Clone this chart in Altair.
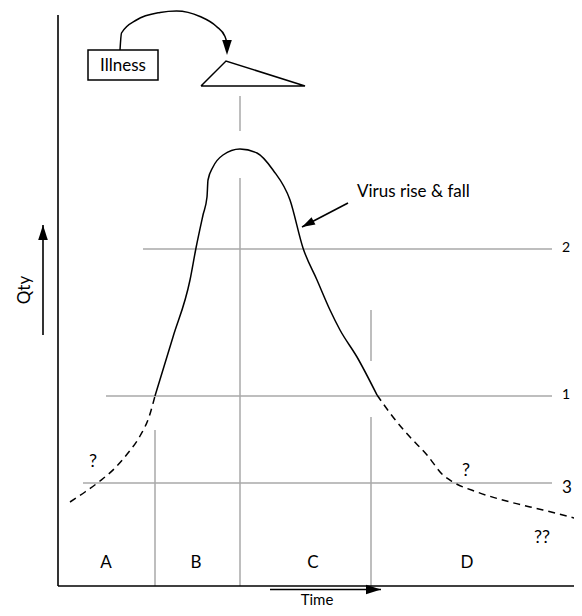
import altair as alt
import pandas as pd

# Diagram coordinates: Time (t) along x, Qty (q) along y.
# Threshold levels
LEVEL_NAMES = ["2", "1", "3"]
LEVEL_Q = [67.4, 38.0, 20.6]
LEVEL_START = [17.0, 9.6, 5.0]
LEVEL_END = [98.8, 98.8, 98.8]
LEVEL_LABEL_T = [100.8, 100.8, 100.8]
LEVEL_LABEL_Q = [67.6, 38.2, 19.6]
LEVEL_LABEL_SIZE = [14, 14, 17]

# Phase dividers (vertical grey lines) and their extra short marks
PHASE_T = [19.4, 36.4, 62.6]
PHASE_TOP = [31.2, 81.6, 33.8]
MARK_T = [36.4, 62.6]
MARK_LO = [91.0, 45.0]
MARK_HI = [98.0, 55.2]

PHASE_NAMES = ["A", "B", "C", "D"]
PHASE_LABEL_T = [9.6, 27.6, 51.0, 81.8]
PHASE_LABEL_Q = [4.6, 4.6, 4.6, 4.6]

# Virus curve: solid part
SOLID_T = [19.4, 23.0, 26.4, 27.6, 29.0, 29.8, 30.0, 31.0, 33.0, 36.4,
           39.8, 43.0, 46.4, 49.0, 51.8, 54.4, 56.4, 59.8, 63.8]
SOLID_Q = [38.0, 49.8, 61.2, 67.6, 74.2, 77.8, 81.2, 83.8, 86.2, 87.4,
           86.6, 83.2, 77.2, 67.6, 61.2, 55.2, 51.2, 45.8, 38.2]
# Dashed (uncertain) parts
DASH_L_T = [2.4, 5.4, 8.4, 11.4, 14.0, 16.4, 18.2, 19.4]
DASH_L_Q = [16.8, 18.8, 21.0, 23.6, 26.6, 30.0, 33.8, 38.0]
DASH_R_T = [63.8, 67.0, 70.4, 73.8, 77.0, 79.0, 83.8, 90.4, 97.0, 104.8]
DASH_R_Q = [38.2, 33.8, 29.8, 26.2, 22.2, 20.8, 18.8, 16.8, 15.2, 13.2]

# Question marks
Q_TEXT = ["?", "?", "??"]
Q_T = [7.0, 81.6, 96.8]
Q_Q = [24.8, 23.0, 9.6]

# Axes
AXIS_T_MAX = 104.8
AXIS_Q_MAX = 114.2

# Illness box and curved arrow to the triangle
BOX_T = [6.0, 20.0]
BOX_Q = [101.2, 107.2]
BOX_LABEL = "Illness"
ARC_T = [12.4, 12.7, 15.7, 20.4, 23.7, 28.4, 31.7, 33.4, 33.8]
ARC_Q = [107.2, 110.6, 113.2, 114.7, 115.0, 113.9, 111.9, 109.9, 108.6]
TRI_T = [28.6, 33.6, 49.4, 28.6]
TRI_Q = [100.0, 105.0, 100.0, 100.0]

# Straight arrows: shaft start, tip, heading (deg), head size
ARROW_NAMES = ["illness", "qty", "time", "virus"]
ARROW_T0 = [None, -3.0, 42.4, 58.0]
ARROW_Q0 = [None, 50.2, -0.7, 76.6]
ARROW_TIP_T = [33.8, -3.0, 64.6, 48.8]
ARROW_TIP_Q = [106.2, 72.2, -0.7, 71.8]
ARROW_ANGLE = [180, 0, 90, 242]
ARROW_SIZE = [900, 900, 900, 676]

VIRUS_LABEL = "Virus rise & fall"
VIRUS_LABEL_T, VIRUS_LABEL_Q = 59.8, 78.8

TIME_LABEL_T, TIME_LABEL_Q = 51.8, -3.8

FONT = "Lato"
FS = 17
GREY = "#a8a8a8"

xs = alt.Scale(domain=[-10, 103.2], nice=False, zero=False)
ys = alt.Scale(domain=[-4.4, 115.6], nice=False, zero=False)


def X(f="t"):
    return alt.X(f"{f}:Q", scale=xs, axis=None)


def Y(f="q"):
    return alt.Y(f"{f}:Q", scale=ys, axis=None)


# grey rules
grey_rows = []
for q, a, b in zip(LEVEL_Q, LEVEL_START, LEVEL_END):
    grey_rows.append(dict(t=a, t2=b, q=q, q2=q))
for t, top in zip(PHASE_T, PHASE_TOP):
    grey_rows.append(dict(t=t, t2=t, q=0, q2=top))
for t, lo, hi in zip(MARK_T, MARK_LO, MARK_HI):
    grey_rows.append(dict(t=t, t2=t, q=lo, q2=hi))
grey = alt.Chart(pd.DataFrame(grey_rows)).mark_rule(
    color=GREY, strokeWidth=1.5
).encode(x=X(), x2="t2:Q", y=Y(), y2="q2:Q")

# black rules: axes and arrow shafts
black_rows = [dict(t=0, t2=0, q=0, q2=AXIS_Q_MAX),
              dict(t=0, t2=AXIS_T_MAX, q=0, q2=0)]
for t0, q0, t1, q1 in zip(ARROW_T0, ARROW_Q0, ARROW_TIP_T, ARROW_TIP_Q):
    if t0 is not None:
        black_rows.append(dict(t=t0, t2=t1, q=q0, q2=q1))
blk = alt.Chart(pd.DataFrame(black_rows)).mark_rule(
    color="black", strokeWidth=1.6
).encode(x=X(), x2="t2:Q", y=Y(), y2="q2:Q")

solid = alt.Chart(pd.DataFrame(dict(t=SOLID_T, q=SOLID_Q))).mark_line(
    color="black", strokeWidth=1.5, interpolate="monotone"
).encode(x=X(), y=Y())

dash_df = pd.concat([
    pd.DataFrame(dict(t=DASH_L_T, q=DASH_L_Q, seg="L")),
    pd.DataFrame(dict(t=DASH_R_T, q=DASH_R_Q, seg="R")),
])
dashed = alt.Chart(dash_df).mark_line(
    color="black", strokeWidth=1.5, strokeDash=[7, 5], interpolate="monotone"
).encode(x=X(), y=Y(), detail="seg:N")

arc = alt.Chart(pd.DataFrame(dict(t=ARC_T, q=ARC_Q))).mark_line(
    color="black", strokeWidth=1.5, interpolate="monotone"
).encode(x=X(), y=Y())

tri = alt.Chart(pd.DataFrame(dict(t=TRI_T, q=TRI_Q, o=range(len(TRI_T))))).mark_line(
    color="black", strokeWidth=1.5
).encode(x=X(), y=Y(), order="o:Q")

box = alt.Chart(pd.DataFrame(dict(t=[BOX_T[0]], t2=[BOX_T[1]], q=[BOX_Q[0]], q2=[BOX_Q[1]]))).mark_rect(
    fill="white", stroke="black", strokeWidth=1.5
).encode(x=X(), x2="t2:Q", y=Y(), y2="q2:Q")

heads = alt.Chart(pd.DataFrame(dict(t=ARROW_TIP_T, q=ARROW_TIP_Q, a=ARROW_ANGLE, s=ARROW_SIZE))).mark_point(
    shape="M0,0L-0.32,1L0.32,1Z", filled=True, color="black", opacity=1, strokeWidth=0
).encode(x=X(), y=Y(), angle=alt.Angle("a:Q", scale=None), size=alt.Size("s:Q", scale=None))

# texts
txt_rows = []
for n, q, t, fs in zip(LEVEL_NAMES, LEVEL_LABEL_Q, LEVEL_LABEL_T, LEVEL_LABEL_SIZE):
    txt_rows.append(dict(t=t, q=q, label=n, align="left", fs=fs))
for n, t, q in zip(PHASE_NAMES, PHASE_LABEL_T, PHASE_LABEL_Q):
    txt_rows.append(dict(t=t, q=q, label=n, align="center", fs=FS))
for n, t, q in zip(Q_TEXT, Q_T, Q_Q):
    txt_rows.append(dict(t=t, q=q, label=n, align="center", fs=18))
txt_rows.append(dict(t=(BOX_T[0] + BOX_T[1]) / 2, q=(BOX_Q[0] + BOX_Q[1]) / 2 - 0.2,
                     label=BOX_LABEL, align="center", fs=FS))
txt_rows.append(dict(t=VIRUS_LABEL_T, q=VIRUS_LABEL_Q, label=VIRUS_LABEL, align="left", fs=FS))
tdf = pd.DataFrame(txt_rows)
texts = alt.Chart(tdf[tdf["align"] == "center"]).mark_text(
    font=FONT, color="black", baseline="middle", align="center"
).encode(x=X(), y=Y(), text="label:N", size=alt.Size("fs:Q", scale=None))
texts_l = alt.Chart(tdf[tdf["align"] == "left"]).mark_text(
    font=FONT, color="black", baseline="middle", align="left"
).encode(x=X(), y=Y(), text="label:N", size=alt.Size("fs:Q", scale=None))
time_lbl = alt.Chart(pd.DataFrame(dict(t=[TIME_LABEL_T], q=[TIME_LABEL_Q], label=["Time"]))).mark_text(
    font=FONT, fontSize=15, color="black", baseline="alphabetic", align="center"
).encode(x=X(), y=Y(), text="label:N")
qty = alt.Chart(pd.DataFrame(dict(t=[-6.6], q=[59.2], label=["Qty"]))).mark_text(
    font=FONT, fontSize=FS, color="black", baseline="middle", align="center", angle=270
).encode(x=X(), y=Y(), text="label:N")

chart = alt.layer(
    grey, blk, solid, dashed, arc, tri, box, heads, texts, texts_l, time_lbl, qty
).properties(
    width=566, height=600, padding=0, autosize="none", background="white"
).configure_view(stroke=None)

chart.save("out.html", embed_options={"renderer": "svg", "actions": False})
